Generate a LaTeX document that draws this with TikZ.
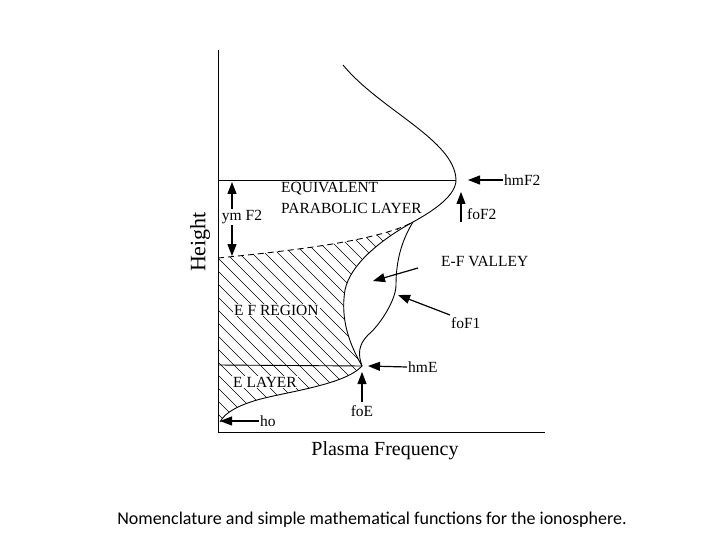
\documentclass[tikz,border=0pt]{standalone}
\usepackage{fontspec}
\setmainfont{Liberation Serif}
\newfontfamily\capfont{Carlito}
\usetikzlibrary{arrows.meta}
\begin{document}
\begin{tikzpicture}[x=1pt,y=-1pt,
  lab/.style={font=\fontsize{15.5}{15.5}\selectfont,inner sep=1pt},
  wlab/.style={lab,fill=white},
  arr/.style={-{Triangle[length=12pt,width=9pt]},line width=1.2pt},
  curve/.style={line width=0.9pt}]
\useasboundingbox (0,0) rectangle (720,540);
% hatched region
\begin{scope}
\clip (218,258) .. controls (300,250) and (380,240) .. (413,222)
  .. controls (380,240) and (350,265) .. (345,290)
  .. controls (340,320) and (350,345) .. (362,366)
  .. controls (345,385) and (285,392) .. (257,400)
  .. controls (240,405) and (225,412) .. (220,422) -- (218,422) -- cycle;
\foreach \i in {-300,-287,...,300}
  \draw[line width=0.6pt] (200+\i,200) -- (450+\i,450);
\end{scope}
% axes
\draw[line width=1pt] (218,50) coordinate (ytop) -- (218,432) coordinate (org) -- (545,432) coordinate (xend);
\coordinate (f2n) at (456,180);
\coordinate (en) at (362,366);
\draw[line width=0.9pt] (218,180) -- (f2n);
\draw[line width=0.9pt] (218,365) -- (en);
% profile
\draw[curve] (343,65) .. controls (380,110) and (455,140) .. (f2n)
  .. controls (456,195) and (435,210) .. (413,222);
\draw[curve] (413,222) .. controls (402,240) and (396,260) .. (396,285)
  .. controls (396,300) and (380,325) .. (368,335)
  .. controls (358,345) and (358,355) .. (en);
\draw[curve] (413,222) .. controls (380,240) and (350,265) .. (345,290)
  .. controls (340,320) and (350,345) .. (en)
  .. controls (345,385) and (285,392) .. (257,400)
  .. controls (240,405) and (225,412) .. (220,422);
\draw[curve,dash pattern=on 6pt off 4pt] (218,258) .. controls (300,250) and (380,240) .. (413,222);
% labels & arrows
\node[lab,anchor=west] (hmf2) at (503,180) {hmF2};
\coordinate (hmf2t) at (468,180);
\draw[arr] (hmf2.west) -- (hmf2t);
\node[lab,anchor=west] (fof2) at (466,214) {foF2};
\coordinate (fof2a) at (461,222); \coordinate (fof2b) at (461,192);
\draw[arr] (fof2a) -- (fof2b);
\node[lab,anchor=west] (eq) at (280,189) {EQUIVALENT};
\node[wlab,anchor=west] (pl) at (280,208) {PARABOLIC LAYER};
\coordinate (ym1) at (232,218); \coordinate (ym2) at (232,182); \coordinate (ym3) at (232,256);
\draw[arr] (ym1) -- (ym2); \draw[arr] (ym1) -- (ym3);
\node[wlab] (ym) at (242,217) {ym F2};
\node[lab,anchor=west] (efv) at (440,262) {E-F VALLEY};
\coordinate (efva) at (373,281);
\draw[arr] (418,268) -- (efva);
\node[lab,anchor=west] (fof1) at (450,323) {foF1};
\coordinate (fof1a) at (398,295);
\draw[arr] (450,315) -- (fof1a);
\node[wlab,anchor=west] (efr) at (233,310) {E F REGION};
\node[lab,anchor=west] (hme) at (407,367) {hmE};
\coordinate (hmea) at (368,366);
\draw[arr] (hme.west) -- (hmea);
\node[wlab,anchor=west] (el) at (232,382) {E LAYER};
\node[lab] (foe) at (362,411) {foE};
\coordinate (foea) at (362,372);
\draw[arr] (362,402) -- (foea);
\node[lab,anchor=west] (ho) at (259,421) {ho};
\coordinate (hoa) at (220,421);
\draw[arr] (ho.west) -- (hoa);
\node[font=\fontsize{22}{22}\selectfont,rotate=90] (ht) at (200,242) {Height};
\node[font=\fontsize{20}{20}\selectfont] (pf) at (385,451) {Plasma Frequency};
\node[font=\capfont\fontsize{18}{18}\selectfont] (cap) at (372,520) {Nomenclature and simple mathematical functions for the ionosphere.};
\end{tikzpicture}
\end{document}
